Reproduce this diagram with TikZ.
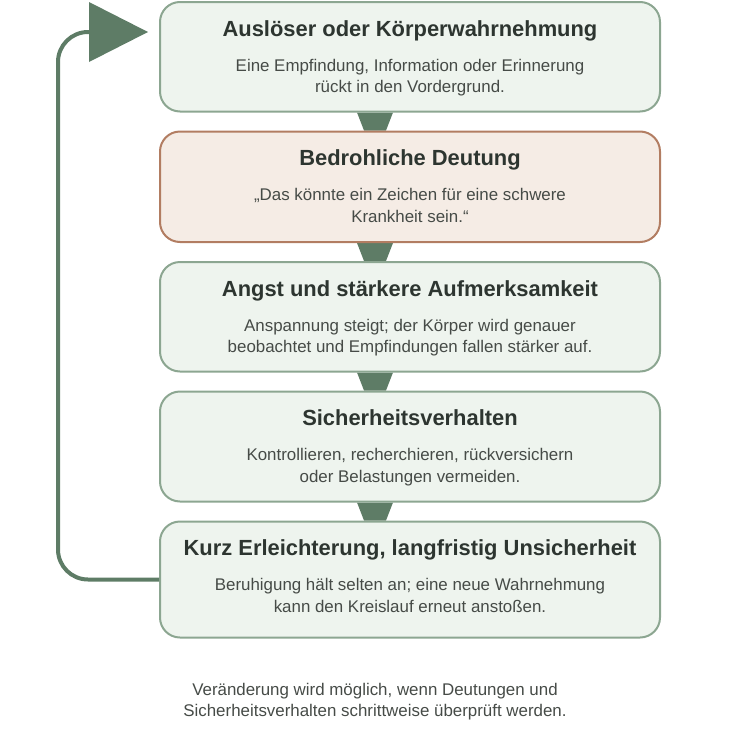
\documentclass[tikz,border=0pt]{standalone}
\usepackage{fontspec}
\setmainfont{Liberation Sans}
\usetikzlibrary{backgrounds}
\definecolor{gfill}{HTML}{EEF4EE}
\definecolor{gdraw}{HTML}{8CA691}
\definecolor{pfill}{HTML}{F5ECE5}
\definecolor{pdraw}{HTML}{B27D62}
\definecolor{dgreen}{HTML}{5E7C66}
\definecolor{ttext}{HTML}{2D3530}
\definecolor{btext}{HTML}{464B47}
\tikzset{
  box/.style={draw=gdraw, fill=gfill, line width=2pt, rounded corners=20pt, minimum width=500pt, inner sep=0pt},
  warnbox/.style={box, draw=pdraw, fill=pfill},
  ttl/.style={anchor=base, inner sep=0pt, text=ttext, font=\bfseries\fontsize{21.9pt}{26pt}\selectfont},
  body/.style={anchor=base, inner sep=0pt, text=btext, font=\fontsize{16.9pt}{20pt}\selectfont},
  conn/.style={fill=dgreen},
  loop/.style={draw=dgreen, line width=4pt, rounded corners=30pt}
}
\begin{document}
\begin{tikzpicture}[x=1pt,y=-1pt]
\useasboundingbox (0,0) rectangle (750,750);
% boxes
\node[box, minimum height=109.5pt] (b1) at (410,56.75) {};
\node[warnbox, minimum height=110.5pt] (b2) at (410,186.75) {};
\node[box, minimum height=109.5pt] (b3) at (410,316.75) {};
\node[box, minimum height=110pt] (b4) at (410,446.5) {};
\node[box, minimum height=116pt] (b5) at (410,579.5) {};
% texts
\node[ttl] (t1) at (410,36) {Auslöser oder Körperwahrnehmung};
\node[body] (t1a) at (410,71) {Eine Empfindung, Information oder Erinnerung};
\node[body] (t1b) at (410,92.5) {rückt in den Vordergrund.};
\node[ttl] (t2) at (410,165.5) {Bedrohliche Deutung};
\node[body] (t2a) at (410,200.5) {„Das könnte ein Zeichen für eine schwere};
\node[body] (t2b) at (410,222) {Krankheit sein.“};
\node[ttl] (t3) at (410,296) {Angst und stärkere Aufmerksamkeit};
\node[body] (t3a) at (410,331) {Anspannung steigt; der Körper wird genauer};
\node[body] (t3b) at (410,352.5) {beobachtet und Empfindungen fallen stärker auf.};
\node[ttl] (t4) at (410,425.5) {Sicherheitsverhalten};
\node[body] (t4a) at (410,460.5) {Kontrollieren, recherchieren, rückversichern};
\node[body] (t4b) at (410,482) {oder Belastungen vermeiden.};
\node[ttl] (t5) at (410,555) {Kurz Erleichterung, langfristig Unsicherheit};
\node[body] (t5a) at (410,590.5) {Beruhigung hält selten an; eine neue Wahrnehmung};
\node[body] (t5b) at (410,612.5) {kann den Kreislauf erneut anstoßen.};
% footer
\node[body] (f1) at (375,695) {Veränderung wird möglich, wenn Deutungen und};
\node[body] (f2) at (375,716.5) {Sicherheitsverhalten schrittweise überprüft werden.};
% connectors
\begin{scope}[on background layer]
\foreach \a/\b in {b1/b2,b2/b3,b3/b4,b4/b5}{
  \fill[conn] ([xshift=-53pt]\a.south) -- ([xshift=-17pt]\a.south) -- ([xshift=-24pt]\b.north) -- ([xshift=-46pt]\b.north) -- cycle;
}
\end{scope}
% loop back
\coordinate (tipbase) at (89,32);
\draw[loop] (b5.west) -- (58,579.5) -- (58,32) -- (tipbase);
\fill[dgreen] (tipbase) ++(0,-30) -- ++(59,30) -- ++(-59,30) -- cycle;
\end{tikzpicture}
\end{document}
